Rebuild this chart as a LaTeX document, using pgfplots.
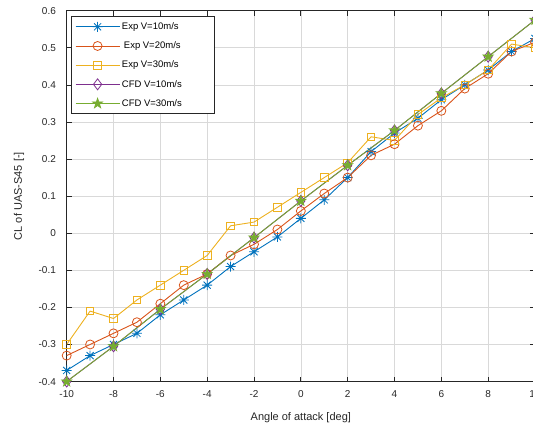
\documentclass[border=0pt]{standalone}
\usepackage{fontspec}
\setmainfont{Liberation Sans}
\usepackage{pgfplots}
\pgfplotsset{compat=1.18}
\definecolor{c1}{rgb}{0,0.447,0.741}
\definecolor{c2}{rgb}{0.85,0.325,0.098}
\definecolor{c3}{rgb}{0.929,0.694,0.125}
\definecolor{c4}{rgb}{0.494,0.184,0.556}
\definecolor{c5}{rgb}{0.466,0.674,0.188}
\definecolor{axc}{rgb}{0.15,0.15,0.15}
\pgfdeclareplotmark{ast8}{%
  \pgfpathmoveto{\pgfqpoint{-\pgfplotmarksize}{0pt}}\pgfpathlineto{\pgfqpoint{\pgfplotmarksize}{0pt}}%
  \pgfpathmoveto{\pgfqpoint{0pt}{-\pgfplotmarksize}}\pgfpathlineto{\pgfqpoint{0pt}{\pgfplotmarksize}}%
  \pgfpathmoveto{\pgfqpoint{-0.7071\pgfplotmarksize}{-0.7071\pgfplotmarksize}}\pgfpathlineto{\pgfqpoint{0.7071\pgfplotmarksize}{0.7071\pgfplotmarksize}}%
  \pgfpathmoveto{\pgfqpoint{-0.7071\pgfplotmarksize}{0.7071\pgfplotmarksize}}\pgfpathlineto{\pgfqpoint{0.7071\pgfplotmarksize}{-0.7071\pgfplotmarksize}}%
  \pgfusepathqstroke}
\pgfdeclareplotmark{pent}{%
  \pgfpathmoveto{\pgfpointpolar{90}{\pgfplotmarksize}}%
  \pgfpathlineto{\pgfpointpolar{126}{0.382\pgfplotmarksize}}%
  \pgfpathlineto{\pgfpointpolar{162}{\pgfplotmarksize}}%
  \pgfpathlineto{\pgfpointpolar{198}{0.382\pgfplotmarksize}}%
  \pgfpathlineto{\pgfpointpolar{234}{\pgfplotmarksize}}%
  \pgfpathlineto{\pgfpointpolar{270}{0.382\pgfplotmarksize}}%
  \pgfpathlineto{\pgfpointpolar{306}{\pgfplotmarksize}}%
  \pgfpathlineto{\pgfpointpolar{342}{0.382\pgfplotmarksize}}%
  \pgfpathlineto{\pgfpointpolar{18}{\pgfplotmarksize}}%
  \pgfpathlineto{\pgfpointpolar{54}{0.382\pgfplotmarksize}}%
  \pgfpathclose
  \pgfusepathqfillstroke}
\newcommand{\leg}[1]{\makebox[86pt][l]{#1}}
\begin{document}
\begin{tikzpicture}
\begin{axis}[
  width=468.5pt, height=371pt, scale only axis,
  xmin=-10, xmax=10, ymin=-0.4, ymax=0.6,
  xtick={-10,-8,-6,-4,-2,0,2,4,6,8,10},
  xticklabels={-10,-8,-6,-4,-2,0,2,4,6,8,10},
  ytick={-0.4,-0.3,-0.2,-0.1,0,0.1,0.2,0.3,0.4,0.5,0.6},
  yticklabels={-0.4,-0.3,-0.2,-0.1,0,0.1,0.2,0.3,0.4,0.5,0.6},
  tick align=inside, major tick length=5pt,
  axis line style={draw=axc, line width=0.7pt},
  tick style={draw=axc, line width=0.7pt},
  grid=major, grid style={draw=black!15, line width=0.6pt},
  tick label style={font=\fontsize{10}{11}\selectfont, text=axc},
  xticklabel style={yshift=-5pt},
  yticklabel style={xshift=-7pt},
  xlabel={Angle of attack [deg]},
  ylabel={CL of UAS-S45 [-]},
  label style={font=\fontsize{11}{12}\selectfont, text=axc},
  xlabel style={at={(axis description cs:0.5,-0.097)}, anchor=center},
  ylabel style={at={(axis description cs:-0.1018,0.5)}, anchor=center},
  line width=0.9pt,
  legend cell align=left,
  legend style={at={(axis description cs:0.009,0.985)}, anchor=north west,
    draw=axc, line width=0.7pt, fill=white,
    font=\fontsize{9.5}{10}\selectfont, text=black,
    row sep=6.8pt, inner xsep=4pt, inner ysep=4pt},
  legend image code/.code={%
    \draw[mark repeat=2,mark phase=2] plot coordinates {(0pt,0pt) (22pt,0pt) (44pt,0pt)};},
]
\addplot[c1, mark=ast8, mark size=5pt, mark options={solid, line width=0.8pt}] coordinates {
(-10,-0.37) (-9,-0.33) (-8,-0.30) (-7,-0.27) (-6,-0.22) (-5,-0.18) (-4,-0.14) (-3,-0.09) (-2,-0.05) (-1,-0.01) (0,0.04) (1,0.09) (2,0.15) (3,0.22) (4,0.27) (5,0.31) (6,0.36) (7,0.40) (8,0.44) (9,0.49) (10,0.525)};
\addlegendentry{\leg{Exp V=10m/s}}
\addplot[c2, mark=o, mark size=4.5pt, mark options={solid, line width=0.8pt}] coordinates {
(-10,-0.33) (-9,-0.30) (-8,-0.27) (-7,-0.24) (-6,-0.19) (-5,-0.14) (-4,-0.11) (-3,-0.06) (-2,-0.03) (-1,0.01) (0,0.06) (1,0.107) (2,0.15) (3,0.21) (4,0.24) (5,0.29) (6,0.33) (7,0.39) (8,0.43) (9,0.49) (10,0.515)};
\addlegendentry{\leg{\hspace{2pt}Exp V=20m/s}}
\addplot[c3, mark=square, mark size=3.8pt, mark options={solid, line width=0.8pt}] coordinates {
(-10,-0.30) (-9,-0.21) (-8,-0.23) (-7,-0.18) (-6,-0.14) (-5,-0.10) (-4,-0.06) (-3,0.02) (-2,0.03) (-1,0.07) (0,0.11) (1,0.15) (2,0.19) (3,0.26) (4,0.25) (5,0.32) (6,0.365) (7,0.40) (8,0.44) (9,0.51) (10,0.50)};
\addlegendentry{\leg{Exp V=30m/s}}
\addplot[c4, mark=diamond, mark size=5.5pt, mark options={solid, line width=0.8pt}] coordinates {
(-10,-0.40) (-8,-0.305) (-6,-0.205) (-4,-0.11) (-2,-0.012) (0,0.087) (2,0.183) (4,0.277) (6,0.377) (8,0.476) (10,0.575)};
\addlegendentry{\leg{CFD V=10m/s}}
\addplot[c5, mark=pent, mark size=5.5pt, mark options={solid, fill=c5, line width=0.6pt}] coordinates {
(-10,-0.40) (-8,-0.305) (-6,-0.205) (-4,-0.11) (-2,-0.012) (0,0.087) (2,0.183) (4,0.277) (6,0.377) (8,0.476) (10,0.575)};
\addlegendentry{\leg{CFD V=30m/s}}
\end{axis}
\pgfresetboundingbox
\path ([xshift=-66.7pt,yshift=-45.3pt]current axis.south west) rectangle ([xshift=-2pt,yshift=10.7pt]current axis.north east);
\end{tikzpicture}
\end{document}
